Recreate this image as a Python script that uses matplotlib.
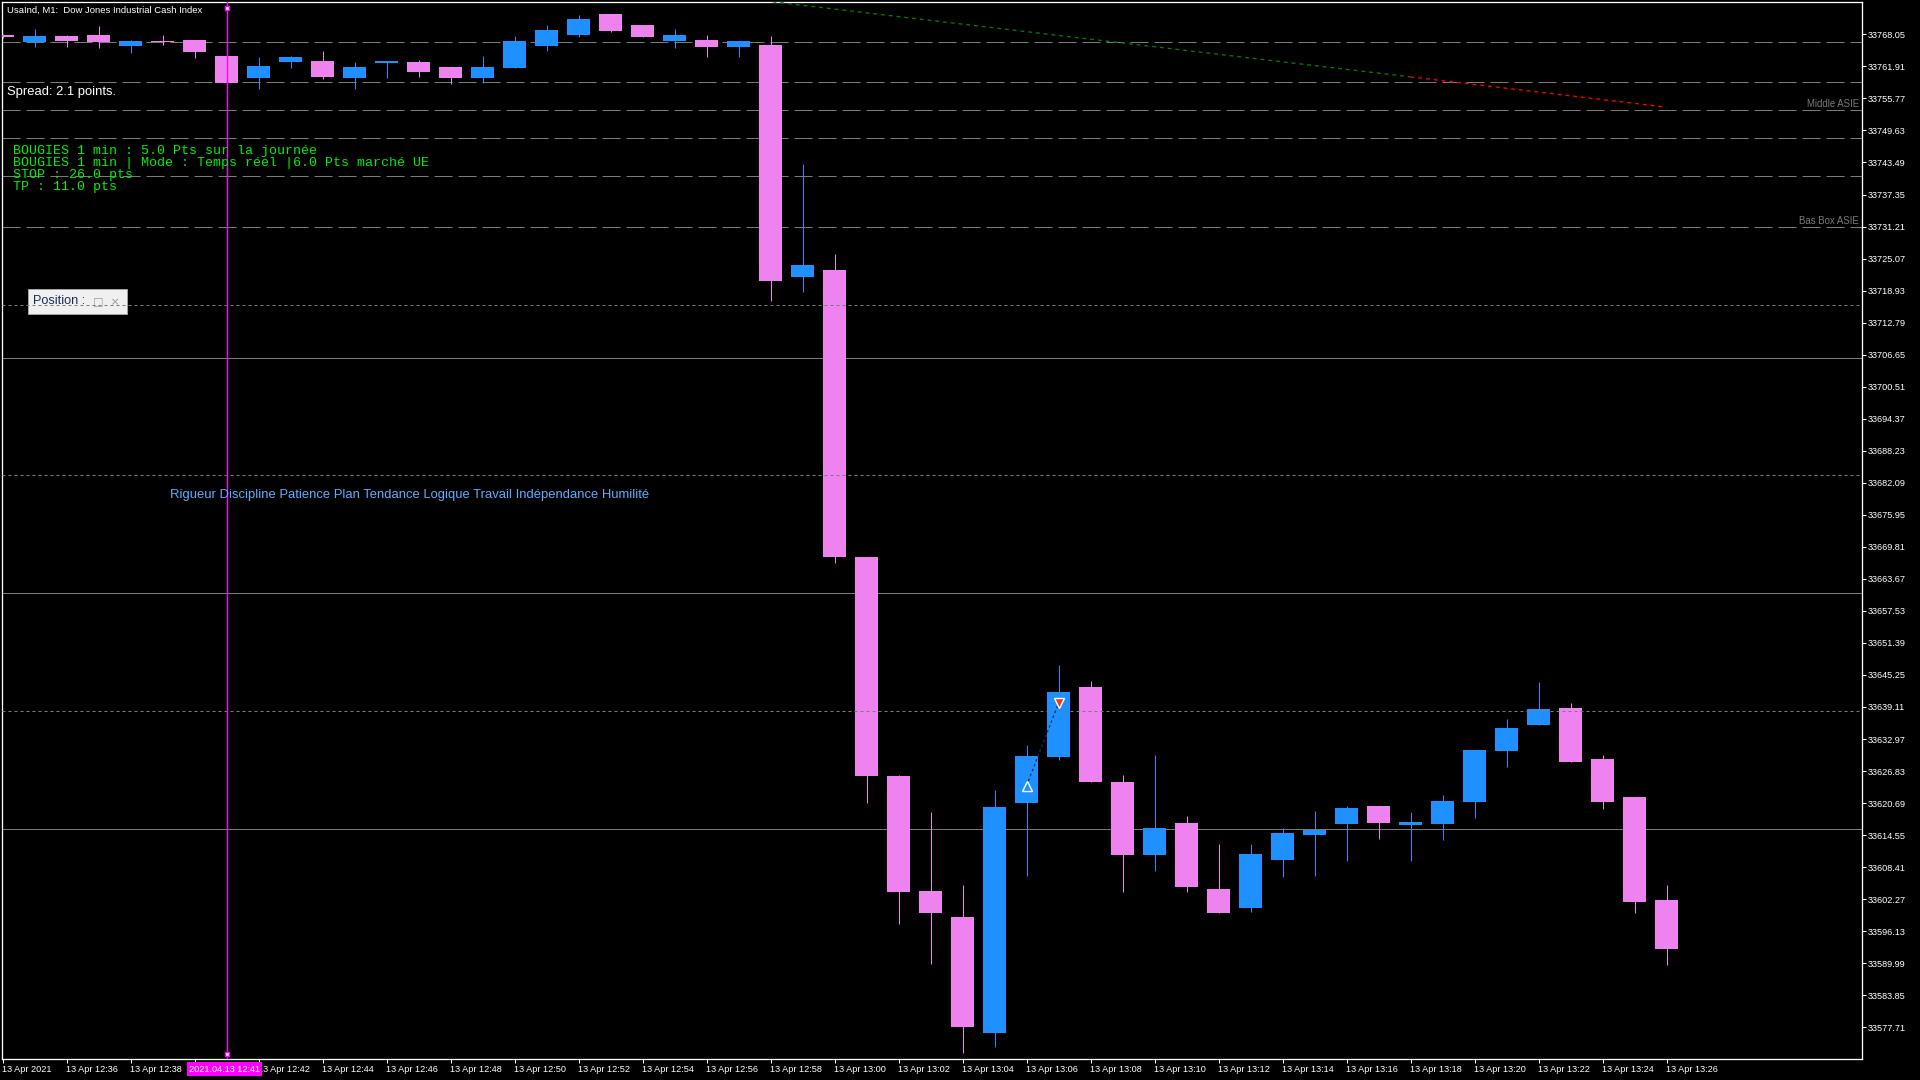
import matplotlib
matplotlib.use("Agg")
import numpy as np
from matplotlib import pyplot as plt
from matplotlib.patches import Rectangle

# Data: 1-minute candles, 13 Apr 2021, 12:34 -> 13:26
times = ["12:34", "12:35", "12:36", "12:37", "12:38", "12:39", "12:40", "12:41",
         "12:42", "12:43", "12:44", "12:45", "12:46", "12:47", "12:48", "12:49",
         "12:50", "12:51", "12:52", "12:53", "12:54", "12:55", "12:56", "12:57",
         "12:58", "12:59", "13:00", "13:01", "13:02", "13:03", "13:04", "13:05",
         "13:06", "13:07", "13:08", "13:09", "13:10", "13:11", "13:12", "13:13",
         "13:14", "13:15", "13:16", "13:17", "13:18", "13:19", "13:20", "13:21",
         "13:22", "13:23", "13:24", "13:25", "13:26"]
opens = [33768.0, 33766.6, 33767.7, 33768.0, 33765.8, 33766.8, 33767.0, 33763.9,
         33759.7, 33762.8, 33763.0, 33759.7, 33762.6, 33762.8, 33761.8, 33759.7,
         33761.6, 33765.8, 33767.9, 33772.0, 33769.9, 33766.8, 33767.0, 33765.6,
         33766.0, 33721.5, 33722.9, 33667.9, 33625.9, 33603.8, 33598.9, 33576.6,
         33620.7, 33629.5, 33643.0, 33624.7, 33610.7, 33616.9, 33604.2, 33600.6,
         33609.8, 33614.6, 33616.7, 33620.1, 33616.5, 33616.7, 33620.9, 33630.7,
         33635.7, 33638.9, 33629.1, 33621.9, 33602.1]
highs = [33768.2, 33769.1, 33767.9, 33769.7, 33767.0, 33767.9, 33767.0, 33763.9,
         33763.7, 33763.9, 33764.9, 33762.8, 33762.9, 33763.1, 33761.8, 33763.9,
         33767.7, 33769.9, 33771.8, 33772.0, 33769.9, 33769.1, 33767.9, 33766.8,
         33767.7, 33743.2, 33726.0, 33667.9, 33626.1, 33619.0, 33605.0, 33623.2,
         33631.8, 33647.2, 33644.0, 33626.1, 33629.9, 33618.2, 33612.9, 33612.9,
         33615.9, 33619.2, 33620.1, 33620.1, 33619.0, 33622.2, 33630.9, 33636.8,
         33643.9, 33639.9, 33629.9, 33621.9, 33605.0]
lows = [33767.4, 33765.6, 33765.6, 33765.4, 33764.5, 33766.0, 33763.5, 33758.7,
        33757.6, 33761.6, 33759.5, 33757.6, 33759.7, 33759.9, 33758.5, 33758.7,
        33761.6, 33764.9, 33767.6, 33768.5, 33767.6, 33765.4, 33763.7, 33763.7,
        33716.9, 33718.7, 33666.7, 33620.7, 33597.5, 33589.9, 33572.8, 33573.9,
        33606.7, 33628.9, 33624.7, 33603.6, 33607.7, 33603.6, 33599.6, 33599.9,
        33606.5, 33606.7, 33609.6, 33613.8, 33609.6, 33613.6, 33617.8, 33627.6,
        33635.7, 33628.6, 33619.6, 33599.6, 33589.6]
closes = [33767.6, 33767.7, 33766.8, 33766.5, 33766.8, 33766.6, 33764.7, 33758.7,
          33762.0, 33763.7, 33759.9, 33761.8, 33762.9, 33760.8, 33759.7, 33761.8,
          33766.8, 33768.9, 33771.0, 33768.7, 33767.6, 33767.9, 33765.6, 33766.8,
          33720.8, 33723.8, 33667.9, 33625.9, 33603.6, 33599.6, 33577.8, 33619.9,
          33629.7, 33642.0, 33624.7, 33610.7, 33615.9, 33604.6, 33599.6, 33610.9,
          33615.0, 33615.5, 33619.8, 33616.9, 33617.1, 33621.1, 33630.9, 33635.1,
          33638.7, 33628.6, 33620.9, 33601.7, 33592.7]

# price scale labels (MT4 style)
price_top = 33768.05
price_step = 6.14
n_price_ticks = 32

# horizontal levels
dash_levels = [33766.52, 33758.87, 33753.52, 33748.11, 33740.85, 33731.07]
dot_levels = [33716.10, 33683.55, 33638.33]
solid_levels = [33706.0, 33660.89, 33615.67]
level_labels = {"Middle ASIE": 33753.52, "Bas Box ASIE": 33731.07}

# trend line (green part then red part)
trend_green_t = ["12:56", "13:18"]
trend_green_p = [33775.8, 33759.9]
trend_red_t = ["13:18", "13:26"]
trend_red_p = [33759.9, 33754.1]

# trade (buy then close)
trade_t = ["13:06", "13:07"]
trade_p = [33624.0, 33639.8]

cursor_time = "12:41"

info_lines = ["BOUGIES 1 min : 5.0 Pts sur la journée",
              "BOUGIES 1 min | Mode : Temps réel |6.0 Pts marché UE",
              "STOP : 26.0 pts",
              "TP : 11.0 pts"]
motto = "Rigueur Discipline Patience Plan Tendance Logique Travail Indépendance Humilité"

# ---------------------------------------------------------------
W, H = 1920, 1080
BULL, BEAR = "#1E90FF", "#EE82EE"
GRID = "#7a7a7a"
PX = 0.72  # one pixel in points at dpi 100


def fx(x):
    return x / W


def fy(y):
    return 1 - y / H


fig = plt.figure(figsize=(19.2, 10.8), dpi=100, facecolor="black")
ax = fig.add_axes([fx(2), fy(1059), fx(1862) - fx(2), fy(2.3) - fy(1059)])
ax.set_facecolor("black")

idx = {t: i for i, t in enumerate(times)}
x = np.arange(len(times))
o, h, l, c = map(np.array, (opens, highs, lows, closes))
cols = np.where(c >= o, BULL, BEAR)

ax.vlines(x, l, h, colors=cols, linewidth=PX, zorder=3)
ax.bar(x, np.maximum(np.abs(c - o), 0.2), bottom=np.minimum(o, c), width=23 / 32,
       color=cols, linewidth=0, zorder=4)

# levels
for lv in dash_levels:
    ax.axhline(lv, color=GRID, lw=PX, ls=(0, (18, 6)), zorder=2)
for lv in dot_levels:
    ax.axhline(lv, color=GRID, lw=PX, ls=(0, (3, 3)), zorder=6)
for lv in solid_levels:
    ax.axhline(lv, color=GRID, lw=PX, zorder=2)
for name, lv in level_labels.items():
    ax.annotate(name, (1, lv), xycoords=("axes fraction", "data"),
                xytext=(-2, 0.8), textcoords="offset points", ha="right", va="bottom",
                color=GRID, fontsize=6.9, family="Liberation Sans")

# trend line
ax.plot([idx[t] for t in trend_green_t], trend_green_p, color="#008000", lw=PX * 1.3,
        ls=(0, (3, 3)), zorder=5)
ax.plot([idx[t] for t in trend_red_t], trend_red_p, color="#ff0000", lw=PX * 1.3,
        ls=(0, (3, 3)), zorder=5)

# trade arrows
tx = [idx[t] for t in trade_t]
ax.plot(tx, trade_p, color="#0d3566", lw=PX * 1.3, ls=(0, (2, 2)), zorder=7)
ax.plot(tx[0], trade_p[0], marker="^", ms=7, mfc=BULL, mec="white", mew=1.0, zorder=8)
ax.plot(tx[1], trade_p[1], marker="v", ms=7, mfc="#e8401c", mec="white", mew=1.0, zorder=8)

# cursor vertical line
ci = idx[cursor_time]
ax.axvline(ci, color="#ff00ff", lw=PX * 1.4, zorder=9)
ax.plot([ci, ci], [0.995, 0.005], transform=ax.get_xaxis_transform(), ls="none",
        marker="s", ms=3.5, mfc="white", mec="#ff00ff", mew=1, zorder=10, clip_on=False)

# axes limits / frame
ax.set_xlim(-0.5 / 32, (1862 - 2.5) / 32)
ax.set_ylim(33571.63, 33774.20)
for sp in ax.spines.values():
    sp.set_color("white")
    sp.set_linewidth(PX * 1.3)

yt = [price_top - price_step * k for k in range(n_price_ticks)]
ax.yaxis.tick_right()
ax.set_yticks(yt)
ax.set_yticklabels([f"{v:.2f}" for v in yt])

# the tick label under the cursor box is hidden in MT4
xt = list(range(0, len(times), 2))
xlabels = []
for i in xt:
    if i == 0:
        xlabels.append("13 Apr 2021")
    elif times[i] == "12:40":
        xlabels.append("")
    else:
        xlabels.append("13 Apr " + times[i])
ax.set_xticks(xt)
ax.set_xticklabels(xlabels, ha="left")
ax.tick_params(colors="white", labelcolor="white", length=4 * PX, width=PX,
               direction="out", labelsize=6.6, pad=1.5)
for lab in ax.get_xticklabels() + ax.get_yticklabels():
    lab.set_family("Liberation Sans")

# cursor time label on the time axis
fig.text(fx(189), fy(1069), "2021.04.13 12:41", color="white", fontsize=6.6,
         family="Liberation Sans", va="center", ha="left",
         bbox=dict(boxstyle="square,pad=0.25", fc="#ff00ff", ec="none"))

# texts
fig.text(fx(7), fy(10), "UsaInd, M1:  Dow Jones Industrial Cash Index", color="white",
         fontsize=6.8, family="Liberation Sans", va="center")
fig.text(fx(7), fy(92), "Spread: 2.1 points.", color="white", fontsize=9.4,
         family="Liberation Sans", va="center")
for k, line in enumerate(info_lines):
    fig.text(fx(13), fy(151 + 12 * k), line, color="#00ee00", fontsize=9.6,
             family="Liberation Mono", va="center")
fig.text(fx(170), fy(495), motto, color="#5aaeff", fontsize=9.35,
         family="Liberation Sans", va="center")

# "Position" panel
ax.add_patch(Rectangle((fx(28), fy(314)), fx(127) - fx(28), fy(289) - fy(314),
                       transform=fig.transFigure, fc="#f0f0f0", ec="#a0a0a0",
                       lw=PX, zorder=5))
ax.text(fx(33), fy(301.5), "Position :", transform=fig.transFigure, color="#1c2a5c",
        fontsize=9.2, family="Liberation Sans", va="center", zorder=5.5)
ax.text(fx(93), fy(301.5), "□  ×", transform=fig.transFigure, color="#9a9a9a",
        fontsize=8, family="DejaVu Sans", va="center", zorder=5.5)

fig.savefig("out.png", dpi=100, facecolor="black")
